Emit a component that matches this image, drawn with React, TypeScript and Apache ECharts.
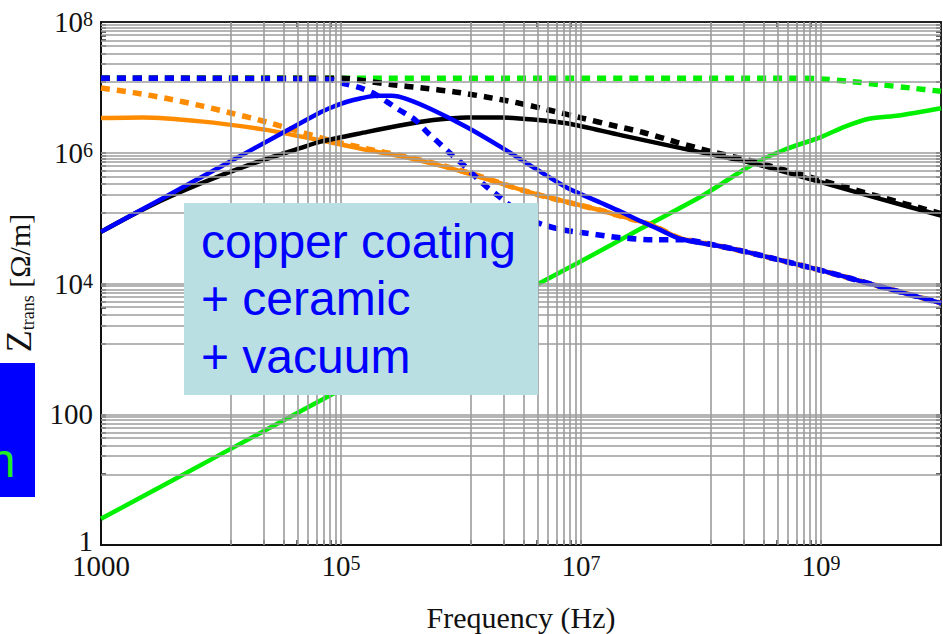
import React, { useEffect, useRef } from "react";
import * as echarts from "echarts";

// All values are log10 of frequency (Hz) and log10 of |Z_trans| (Ω/m)
const xLabelExps = [3, 5, 7, 9];
const yLabelExps = [0, 2, 4, 6, 8];
// decades that carry minor grid lines (given by their upper bound)
const xGridDecadeTops = [5, 7, 9];
const yGridDecadeTops = [2, 4, 6];
const multipliers = [1, 2, 3, 4, 5, 6, 7, 8, 9, 10];
const gridDecadeSpan = 0.917; // minor-line decade span as drawn in the reference

const greenRealF = [3, 4, 5, 6, 7, 7.5, 8, 8.43, 8.7, 9.0, 9.2, 9.4, 9.65, 10];
const greenRealZ = [0.4, 1.39, 2.38, 3.37, 4.34, 4.84, 5.33, 5.82, 6.05, 6.24, 6.4, 6.52, 6.57, 6.68];

const greenImagF = [3, 8.8, 9.0, 9.25, 9.5, 9.75, 10];
const greenImagZ = [7.14, 7.14, 7.13, 7.09, 7.04, 6.99, 6.94];

const blueImagF = [3, 4.9, 5.0, 5.15, 5.27, 5.39, 5.49, 5.62, 5.72, 5.81, 5.91, 6.01, 6.1, 6.2, 6.31, 6.39, 6.5, 6.6, 6.7, 6.85, 7.0, 7.33, 7.6, 7.83, 8.16, 8.43, 9.0, 9.5, 10];
const blueImagZ = [7.14, 7.12, 7.07, 7.0, 6.91, 6.77, 6.65, 6.5, 6.31, 6.16, 5.99, 5.83, 5.67, 5.5, 5.34, 5.22, 5.07, 4.96, 4.89, 4.82, 4.78, 4.7, 4.67, 4.67, 4.57, 4.46, 4.2, 3.95, 3.7];

const blackImagF = [3, 5.0, 5.16, 5.43, 5.68, 5.95, 6.22, 6.48, 6.74, 7.01, 7.26, 7.52, 7.8, 8.1, 8.43, 9.0, 9.5, 10];
const blackImagZ = [7.14, 7.14, 7.11, 7.04, 6.99, 6.93, 6.85, 6.76, 6.65, 6.53, 6.42, 6.31, 6.16, 6.01, 5.87, 5.58, 5.32, 5.07];

const blackRealF = [3, 3.4, 3.83, 4.24, 4.66, 4.83, 5.22, 5.5, 5.77, 6.05, 6.33, 6.6, 6.88, 7.33, 7.91, 8.43, 9.0, 9.5, 10];
const blackRealZ = [4.79, 5.18, 5.53, 5.82, 6.07, 6.17, 6.32, 6.42, 6.5, 6.54, 6.54, 6.51, 6.45, 6.27, 6.04, 5.84, 5.55, 5.29, 5.04];

const blueRealF = [3, 3.5, 4, 4.5, 4.83, 4.93, 5.05, 5.16, 5.3, 5.42, 5.55, 5.77, 6.05, 6.33, 6.6, 6.88, 7.16, 7.33, 7.49, 7.66, 7.83, 8.16, 8.43, 9.0, 9.5, 10];
const blueRealZ = [4.79, 5.29, 5.79, 6.29, 6.62, 6.7, 6.78, 6.83, 6.87, 6.87, 6.82, 6.65, 6.39, 6.09, 5.78, 5.47, 5.24, 5.1, 4.96, 4.82, 4.68, 4.57, 4.46, 4.2, 3.95, 3.7];

const orangeRealF = [3, 3.35, 3.83, 4.38, 4.66, 4.99, 5.22, 5.49, 5.77, 6.05, 6.6, 7.16, 7.33, 7.58, 7.7, 7.83, 8.16, 8.43, 9.0, 9.5, 10];
const orangeRealZ = [6.53, 6.54, 6.48, 6.35, 6.25, 6.13, 6.04, 5.95, 5.83, 5.69, 5.38, 5.12, 5.03, 4.9, 4.8, 4.69, 4.57, 4.46, 4.2, 3.95, 3.7];

const orangeImagF = [3, 3.27, 3.55, 3.83, 4.1, 4.38, 4.66, 4.93, 5.22, 5.49, 5.77, 6.05, 6.6, 7.16, 7.33, 7.58, 7.7, 7.83, 8.16, 8.43, 9.0, 9.5, 10];
const orangeImagZ = [6.99, 6.92, 6.83, 6.72, 6.6, 6.47, 6.32, 6.18, 6.06, 5.96, 5.84, 5.7, 5.38, 5.12, 5.03, 4.9, 4.8, 4.69, 4.57, 4.46, 4.2, 3.95, 3.7];

const annotationLines = ["copper coating", "+ ceramic", "+ vacuum"];

const SERIF = "'Liberation Serif', 'Times New Roman', serif";
const SANS = "'Liberation Sans', Arial, sans-serif";

function gridPositions(tops: number[], maxV: number) {
  const out: number[] = [];
  tops.forEach((t) =>
    multipliers.forEach((m) => {
      const v = t - gridDecadeSpan * (1 - Math.log10(m));
      if (v < maxV - 1e-9) out.push(v);
    })
  );
  return out;
}

function expLabel(v: number, plain: Record<number, string>, lowToken?: number) {
  const r = Math.round(v);
  if (plain[r] !== undefined) return (r === lowToken ? "{o|" : "{n|") + plain[r] + "}";
  return "{n|10}{s|" + r + "}";
}

const labelRich = {
  n: { fontFamily: SERIF, fontSize: 29, lineHeight: 26, color: "#111" },
  o: { fontFamily: SERIF, fontSize: 29, lineHeight: 26, color: "#111", padding: [0, 0, 8, 0] },
  s: { fontFamily: SERIF, fontSize: 20, lineHeight: 12, color: "#111", verticalAlign: "top" },
};

function curve(name: string, fx: number[], fz: number[], color: string, dotted: boolean) {
  return {
    name,
    type: "line",
    data: fx.map((f, i) => [f, fz[i]]),
    showSymbol: false,
    symbol: "none",
    smooth: 0.3,
    silent: true,
    lineStyle: { color, width: dotted ? 5.5 : 4.5, type: dotted ? [9, 7] : "solid", cap: "butt" },
  };
}

export default function App() {
  const ref = useRef<HTMLDivElement>(null);
  useEffect(() => {
    if (!ref.current) return;
    const chart = echarts.init(ref.current, null, { renderer: "svg" });
    const xGrid = gridPositions(xGridDecadeTops, 10);
    const yGrid = gridPositions(yGridDecadeTops.concat([8]), 8);
    const gridStyle = { color: "#9c9c9c", width: 1.6, type: "solid" };
    const xTicks = { show: true, inside: true, length: 5, customValues: xGrid, lineStyle: { color: "#333", width: 1.5 } };
    const yTicks = { show: true, inside: true, length: 5, customValues: yGrid, lineStyle: { color: "#333", width: 1.5 } };
    const option: any = {
      animation: false,
      grid: { left: 101, top: 22, width: 840, height: 523, show: true, borderColor: "#222", borderWidth: 1.5, outerBoundsMode: "none" },
      xAxis: [
        {
          type: "value", min: 3, max: 10, interval: 1, position: "bottom",
          axisLine: { show: true, onZero: false, lineStyle: { color: "#111", width: 2 } },
          axisTick: xTicks,
          splitLine: { show: false },
          axisLabel: {
            customValues: xLabelExps, margin: 8, color: "#111",
            formatter: (v: number) => (xLabelExps.includes(Math.round(v)) ? expLabel(v, { 3: "1000" }) : ""),
            rich: labelRich,
          },
          name: "Frequency (Hz)", nameLocation: "middle", nameGap: 57,
          nameTextStyle: { fontFamily: SERIF, fontSize: 30, color: "#111" },
        },
        {
          type: "value", min: 3, max: 10, interval: 1, position: "top",
          axisLine: { show: true, onZero: false, lineStyle: { color: "#111", width: 1.5 } },
          axisTick: xTicks, axisLabel: { show: false }, splitLine: { show: false },
        },
      ],
      yAxis: [
        {
          type: "value", min: 0, max: 8, interval: 1, position: "left",
          axisLine: { show: true, onZero: false, lineStyle: { color: "#111", width: 2 } },
          axisTick: yTicks,
          splitLine: { show: false },
          axisLabel: {
            customValues: yLabelExps, margin: 8, color: "#111",
            formatter: (v: number) => (yLabelExps.includes(Math.round(v)) ? expLabel(v, { 0: "1", 2: "100" }, 0) : ""),
            rich: labelRich,
          },
        },
        {
          type: "value", min: 0, max: 8, interval: 1, position: "right",
          axisLine: { show: true, onZero: false, lineStyle: { color: "#111", width: 1.5 } },
          axisTick: yTicks, axisLabel: { show: false }, splitLine: { show: false },
        },
      ],
      series: [
        {
          name: "grid",
          type: "line",
          data: [[3, 0]],
          showSymbol: false,
          symbol: "none",
          lineStyle: { width: 0, opacity: 0 },
          silent: true,
          markLine: {
            silent: true,
            symbol: ["none", "none"],
            label: { show: false },
            lineStyle: gridStyle,
            data: [...xGrid.map((v) => ({ xAxis: v })), ...yGrid.map((v) => ({ yAxis: v }))],
          },
        },
        curve("green imag", greenImagF, greenImagZ, "#00f000", true),
        curve("green real", greenRealF, greenRealZ, "#00f000", false),
        curve("orange real", orangeRealF, orangeRealZ, "#ff8c00", false),
        curve("orange imag", orangeImagF, orangeImagZ, "#ff8c00", true),
        curve("black real", blackRealF, blackRealZ, "#000000", false),
        curve("black imag", blackImagF, blackImagZ, "#000000", true),
        curve("blue imag", blueImagF, blueImagZ, "#0000ff", true),
        curve("blue real", blueRealF, blueRealZ, "#0000ff", false),
      ],
      graphic: [
        {
          type: "text", x: 19, y: 283, rotation: Math.PI / 2, z: 100,
          style: {
            text: "{z|Z}{t|trans}{u| [Ω/m]}",
            align: "center", verticalAlign: "middle", fill: "#111",
            rich: {
              z: { fontFamily: SERIF, fontSize: 36, lineHeight: 36, fill: "#111" },
              t: { fontFamily: SERIF, fontSize: 18, lineHeight: 18, verticalAlign: "bottom", fill: "#111" },
              u: { fontFamily: SERIF, fontSize: 30, lineHeight: 36, fill: "#111" },
            },
          },
        },
        { type: "rect", z: 100, shape: { x: 184, y: 203, width: 354, height: 192 }, style: { fill: "#b9dfe2" } },
        {
          type: "text", z: 101, x: 201, y: 212.6,
          style: {
            text: annotationLines.join("\n"), fill: "#0000ff",
            font: "48px " + SANS, lineHeight: 57.5, align: "left", verticalAlign: "top",
          },
        },
        { type: "rect", z: 100, shape: { x: 0, y: 363, width: 35, height: 134 }, style: { fill: "#0000ff" } },
        {
          type: "text", z: 101, x: 15.5, y: 460.4,
          style: { text: "n", fill: "#22ee22", font: "48px " + SANS, align: "right", verticalAlign: "middle" },
        },
      ],
    };
    chart.setOption(option);
    return () => chart.dispose();
  }, []);
  return <div ref={ref} style={{ position: "fixed", left: 0, top: 0, width: 943, height: 634, background: "#fff" }} />;
}
